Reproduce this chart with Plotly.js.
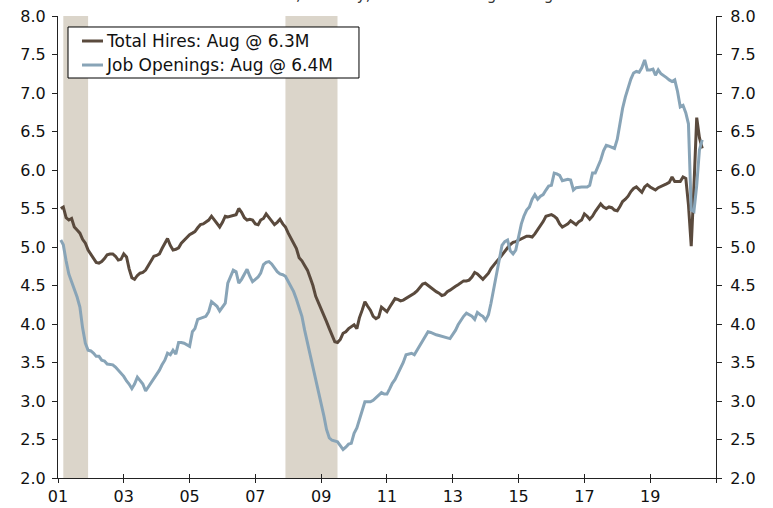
<!DOCTYPE html>
<html>
<head>
<meta charset="utf-8">
<script src="https://cdn.plot.ly/plotly-3.0.1.min.js"></script>
<style>html,body{margin:0;padding:0;background:#fff;}#chart{width:773px;height:508px;}</style>
</head>
<body>
<div id="chart"></div>
<script>
// Monthly data, 3-month moving average, millions. First value = Feb 2001, last = Aug 2020.
var firstMonth = '2001-02-01';
var hires = [
  5.50,5.52,5.38,5.35,5.37,5.26,5.22,5.18,5.10,5.05,4.96,                 // 2001 Feb-Dec
  4.90,4.84,4.80,4.79,4.81,4.85,4.90,4.91,4.91,4.88,4.83,4.84,            // 2002
  4.91,4.87,4.72,4.60,4.58,4.63,4.66,4.67,4.70,4.76,4.82,4.88,            // 2003
  4.89,4.91,4.98,5.05,5.11,5.02,4.96,4.97,4.99,5.05,5.09,5.13,            // 2004
  5.16,5.18,5.20,5.25,5.29,5.30,5.32,5.35,5.40,5.35,5.30,5.26,            // 2005
  5.32,5.40,5.39,5.40,5.40,5.42,5.50,5.45,5.38,5.35,5.36,5.35,            // 2006
  5.30,5.29,5.35,5.37,5.43,5.38,5.33,5.29,5.32,5.36,5.30,5.26,            // 2007
  5.18,5.11,5.05,4.98,4.86,4.82,4.76,4.70,4.60,4.50,4.36,4.28,            // 2008
  4.21,4.12,4.03,3.94,3.86,3.77,3.76,3.80,3.88,3.90,3.94,3.96,            // 2009
  3.99,3.94,4.08,4.18,4.29,4.23,4.18,4.10,4.07,4.09,4.22,4.19,            // 2010
  4.16,4.22,4.28,4.33,4.32,4.30,4.31,4.33,4.35,4.38,4.40,4.43,            // 2011
  4.47,4.52,4.53,4.50,4.48,4.45,4.42,4.40,4.37,4.38,4.42,4.44,            // 2012
  4.47,4.49,4.51,4.53,4.56,4.56,4.57,4.61,4.67,4.65,4.62,4.58,            // 2013
  4.62,4.66,4.72,4.77,4.81,4.85,4.90,4.94,4.99,5.03,5.06,5.07,            // 2014
  5.09,5.10,5.12,5.14,5.14,5.13,5.17,5.22,5.28,5.33,5.40,5.41,            // 2015
  5.42,5.40,5.37,5.30,5.26,5.28,5.30,5.34,5.31,5.29,5.33,5.35,            // 2016
  5.43,5.40,5.36,5.40,5.46,5.52,5.56,5.52,5.50,5.52,5.51,5.48,            // 2017
  5.47,5.53,5.59,5.62,5.66,5.72,5.76,5.78,5.74,5.71,5.78,5.81,            // 2018
  5.78,5.76,5.74,5.77,5.79,5.81,5.82,5.84,5.91,5.85,5.85,5.85,            // 2019
  5.91,5.89,5.55,5.01,5.78,6.68,6.42,6.28                                 // 2020 Jan-Aug
];
var openings = [
  5.09,5.03,4.82,4.65,4.55,4.46,4.35,4.22,3.95,3.75,3.66,                 // 2001 Feb-Dec
  3.65,3.62,3.58,3.58,3.53,3.52,3.48,3.47,3.47,3.44,3.40,3.35,            // 2002
  3.32,3.26,3.22,3.16,3.22,3.31,3.27,3.22,3.13,3.18,3.24,3.29,            // 2003
  3.34,3.40,3.47,3.53,3.62,3.60,3.66,3.61,3.76,3.76,3.75,3.73,            // 2004
  3.71,3.90,3.94,4.06,4.07,4.08,4.10,4.16,4.29,4.26,4.23,4.17,            // 2005
  4.22,4.27,4.53,4.62,4.70,4.68,4.53,4.58,4.64,4.71,4.62,4.55,            // 2006
  4.58,4.61,4.66,4.77,4.80,4.81,4.78,4.73,4.68,4.65,4.64,4.62,            // 2007
  4.55,4.50,4.42,4.32,4.20,4.10,3.92,3.76,3.60,3.42,3.28,3.14,            // 2008
  2.96,2.80,2.63,2.52,2.49,2.48,2.47,2.42,2.37,2.40,2.44,2.45,            // 2009
  2.58,2.65,2.75,2.88,2.99,2.99,2.99,3.01,3.04,3.08,3.11,3.09,            // 2010
  3.09,3.16,3.23,3.28,3.35,3.42,3.50,3.60,3.61,3.62,3.60,3.66,            // 2011
  3.72,3.78,3.84,3.90,3.89,3.87,3.86,3.85,3.84,3.84,3.82,3.81,            // 2012
  3.86,3.92,3.99,4.05,4.10,4.14,4.12,4.10,4.06,4.15,4.12,4.10,            // 2013
  4.05,4.12,4.27,4.45,4.63,4.82,5.02,5.07,5.09,4.95,4.91,4.96,            // 2014
  5.12,5.30,5.40,5.48,5.52,5.62,5.68,5.62,5.66,5.68,5.74,5.79,            // 2015
  5.80,5.96,5.95,5.93,5.86,5.87,5.88,5.87,5.74,5.77,5.78,5.78,            // 2016
  5.78,5.78,5.80,5.96,5.96,6.05,6.13,6.25,6.32,6.31,6.29,6.28,            // 2017
  6.40,6.62,6.80,6.95,7.08,7.18,7.26,7.28,7.27,7.33,7.43,7.30,            // 2018
  7.30,7.31,7.23,7.30,7.25,7.23,7.20,7.17,7.15,7.17,7.02,6.82,            // 2019
  6.84,6.74,6.60,5.48,5.46,5.80,6.26,6.39                                 // 2020 Jan-Aug
];
var seriesNames = ['Total Hires: Aug @ 6.3M', 'Job Openings: Aug @ 6.4M'];
var seriesColors = ['#5a4a3d', '#88a4b7'];
var recessionStart = ['2001-03-01', '2007-12-01'];
var recessionEnd   = ['2001-12-01', '2009-07-01'];
var tickDates  = ['2001-01-01','2003-01-01','2005-01-01','2007-01-01','2009-01-01','2011-01-01','2013-01-01','2015-01-01','2017-01-01','2019-01-01','2021-01-01'];
var tickLabels = ['01','03','05','07','09','11','13','15','17','19',''];
var subtitle = 'Millions, Monthly, 3-Month Moving Average';

function monthDates(start, n) {
  var y = +start.slice(0,4), m = +start.slice(5,7) - 1, out = [];
  for (var i = 0; i < n; i++) {
    var yy = y + Math.floor((m + i) / 12), mm = (m + i) % 12 + 1;
    out.push(yy + '-' + (mm < 10 ? '0' : '') + mm + '-01');
  }
  return out;
}
var dates = monthDates(firstMonth, hires.length);

var FONT = 'DejaVu Sans, Verdana, sans-serif';
var TICKFONT = {family: FONT, size: 16, color: '#111'};
var traces = [
  {x: dates, y: hires, name: seriesNames[0], type: 'scatter', mode: 'lines',
   line: {color: seriesColors[0], width: 3}, xaxis: 'x', yaxis: 'y', showlegend: false},
  {x: dates, y: openings, name: seriesNames[1], type: 'scatter', mode: 'lines',
   line: {color: seriesColors[1], width: 3}, xaxis: 'x2', yaxis: 'y2', showlegend: false}
];

var shapes = recessionStart.map(function (s, i) {
  return {type: 'rect', xref: 'x', yref: 'paper', x0: s, x1: recessionEnd[i], y0: 0, y1: 1,
          fillcolor: '#dbd5ca', line: {width: 0}, layer: 'below'};
});

// Legend box (drawn in paper coordinates)
var legBox = {x0: 0.0152, x1: 0.4574, y0: 0.8658, y1: 0.9762};
var legRowsY = [0.9459, 0.8939];
shapes.push({type: 'rect', xref: 'paper', yref: 'paper', x0: legBox.x0, x1: legBox.x1,
             y0: legBox.y0, y1: legBox.y1, fillcolor: '#fff', line: {color: '#000', width: 1}, layer: 'above'});
var annotations = [{text: subtitle, xref: 'paper', yref: 'paper', x: 0.5, y: 1, xanchor: 'center',
                    yanchor: 'bottom', xshift: 14, yshift: 10, showarrow: false,
                    font: {family: FONT, size: 15, color: '#333'}}];
seriesNames.forEach(function (nm, i) {
  shapes.push({type: 'line', xref: 'paper', yref: 'paper', x0: 0.0365, x1: 0.0684,
               y0: legRowsY[i], y1: legRowsY[i], line: {color: seriesColors[i], width: 3}, layer: 'above'});
  annotations.push({text: nm, xref: 'paper', yref: 'paper', x: 0.0700, y: legRowsY[i],
                    xanchor: 'left', yanchor: 'middle', showarrow: false,
                    font: {family: FONT, size: 17, color: '#111'}});
});

var xr = ['2001-01-01', '2021-01-01'];
var layout = {
  width: 773, height: 508,
  margin: {l: 58, r: 57, t: 16, b: 30, pad: 0},
  paper_bgcolor: '#fff', plot_bgcolor: '#fff',
  font: {family: FONT, size: 16, color: '#111'},
  showlegend: false,
  xaxis: {type: 'date', range: xr, tickmode: 'array', tickvals: tickDates, ticktext: tickLabels,
          ticks: 'outside', ticklen: 4, tickcolor: '#222', tickwidth: 1,
          showline: true, linecolor: '#222', linewidth: 1, showgrid: false, zeroline: false,
          tickfont: TICKFONT, anchor: 'y'},
  xaxis2: {type: 'date', range: xr, overlaying: 'x', anchor: 'y', side: 'bottom',
           tickmode: 'array', tickvals: tickDates, ticks: 'inside', ticklen: 4, tickcolor: '#222',
           showticklabels: false, showline: false, showgrid: false, zeroline: false},
  yaxis: {range: [2, 8], dtick: 0.5, tick0: 2, tickformat: '.1f', ticks: 'outside', ticklen: 5,
          tickcolor: '#222', showline: true, linecolor: '#222', linewidth: 1, showgrid: false,
          zeroline: false, tickfont: TICKFONT, anchor: 'x', ticklabelstandoff: 3},
  yaxis2: {range: [2, 8], dtick: 0.5, tick0: 2, tickformat: '.1f', ticks: 'outside', ticklen: 5,
           tickcolor: '#222', showline: true, linecolor: '#222', linewidth: 1, showgrid: false,
           zeroline: false, overlaying: 'y', side: 'right', anchor: 'x', ticklabelstandoff: 5,
           tickfont: TICKFONT},
  shapes: shapes,
  annotations: annotations
};

Plotly.newPlot('chart', traces, layout, {displayModeBar: false, staticPlot: true});
</script>
</body>
</html>
